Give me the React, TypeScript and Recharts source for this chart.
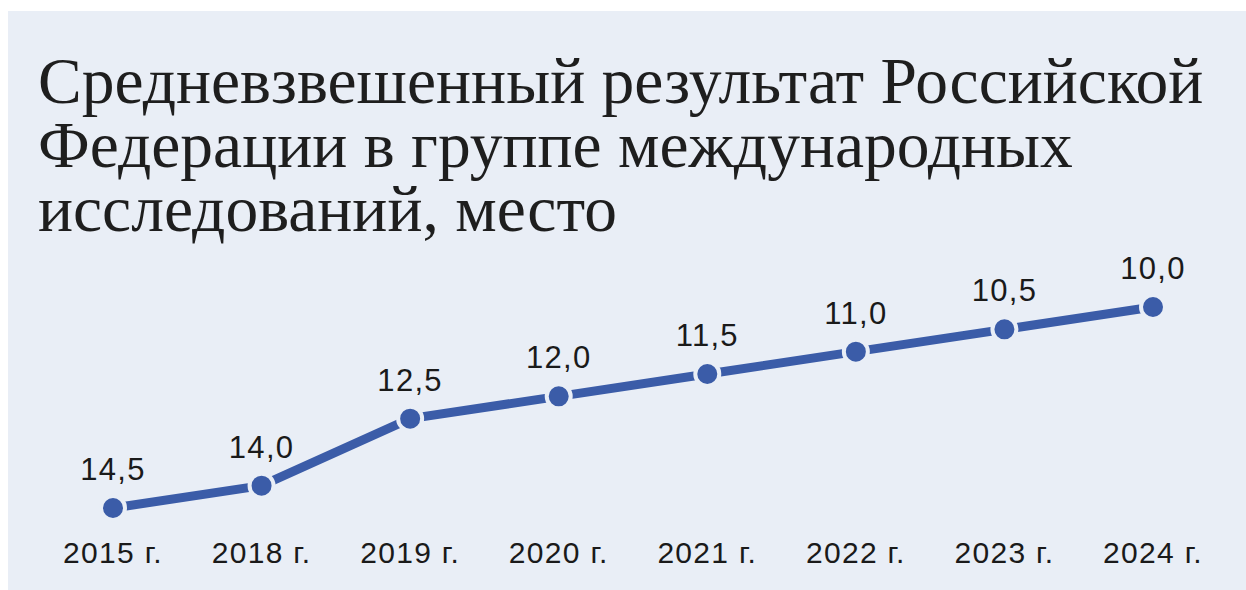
import React from 'react';
import { LineChart, Line, XAxis, YAxis, LabelList } from 'recharts';

const years = ['2015 г.', '2018 г.', '2019 г.', '2020 г.', '2021 г.', '2022 г.', '2023 г.', '2024 г.'];
const places = [14.5, 14.0, 12.5, 12.0, 11.5, 11.0, 10.5, 10.0];
const titleLines = [
  'Средневзвешенный результат Российской',
  'Федерации в группе международных',
  'исследований, место',
];

const data = years.map((year, i) => ({ year, place: places[i] }));

const BLUE = '#3b5ca8';
const PANEL = '#e9eef6';
const SANS = '"Liberation Sans", Arial, sans-serif';

const fmt = (v: any) => Number(v).toFixed(1).replace('.', ',');

const YearTick = (props: any) => {
  const { x, y, payload } = props;
  return (
    <text
      x={x}
      y={y}
      dy={47}
      textAnchor="middle"
      fontSize={30}
      letterSpacing={1.3}
      fill="#1a1a1a"
      fontFamily={SANS}
    >
      {payload.value}
    </text>
  );
};

export default function App() {
  return (
    <div style={{ position: 'relative', width: 1246, height: 590, background: '#fff', overflow: 'hidden' }}>
      <style>{`body{margin:0}`}</style>
      <div style={{ position: 'absolute', left: 8, top: 11, width: 1238, height: 579, background: PANEL }} />
      <div
        style={{
          position: 'absolute',
          left: 38,
          top: 49,
          fontFamily: '"Liberation Serif", "Times New Roman", serif',
          fontSize: 65.5,
          lineHeight: '64px',
          color: '#1e1e1e',
          whiteSpace: 'pre',
        }}
      >
        {titleLines.map((t) => (
          <div key={t}>{t}</div>
        ))}
      </div>
      <div style={{ position: 'absolute', left: 0, top: 0 }}>
        <LineChart width={1246} height={590} data={data} margin={{ top: 307, right: 93, bottom: 0, left: 113 }}>
          <XAxis dataKey="year" height={82} axisLine={false} tickLine={false} interval={0} tick={<YearTick />} />
          <YAxis hide reversed domain={[10, 14.5]} />
          <Line
            type="linear"
            dataKey="place"
            stroke={BLUE}
            strokeWidth={9}
            dot={{ r: 12, fill: BLUE, stroke: PANEL, strokeWidth: 4 }}
            activeDot={false}
            isAnimationActive={false}
          >
            <LabelList
              dataKey="place"
              position="top"
              offset={28}
              formatter={fmt}
              fontSize={31}
              letterSpacing={1.3}
              fill="#1a1a1a"
              fontFamily={SANS}
            />
          </Line>
        </LineChart>
      </div>
    </div>
  );
}
